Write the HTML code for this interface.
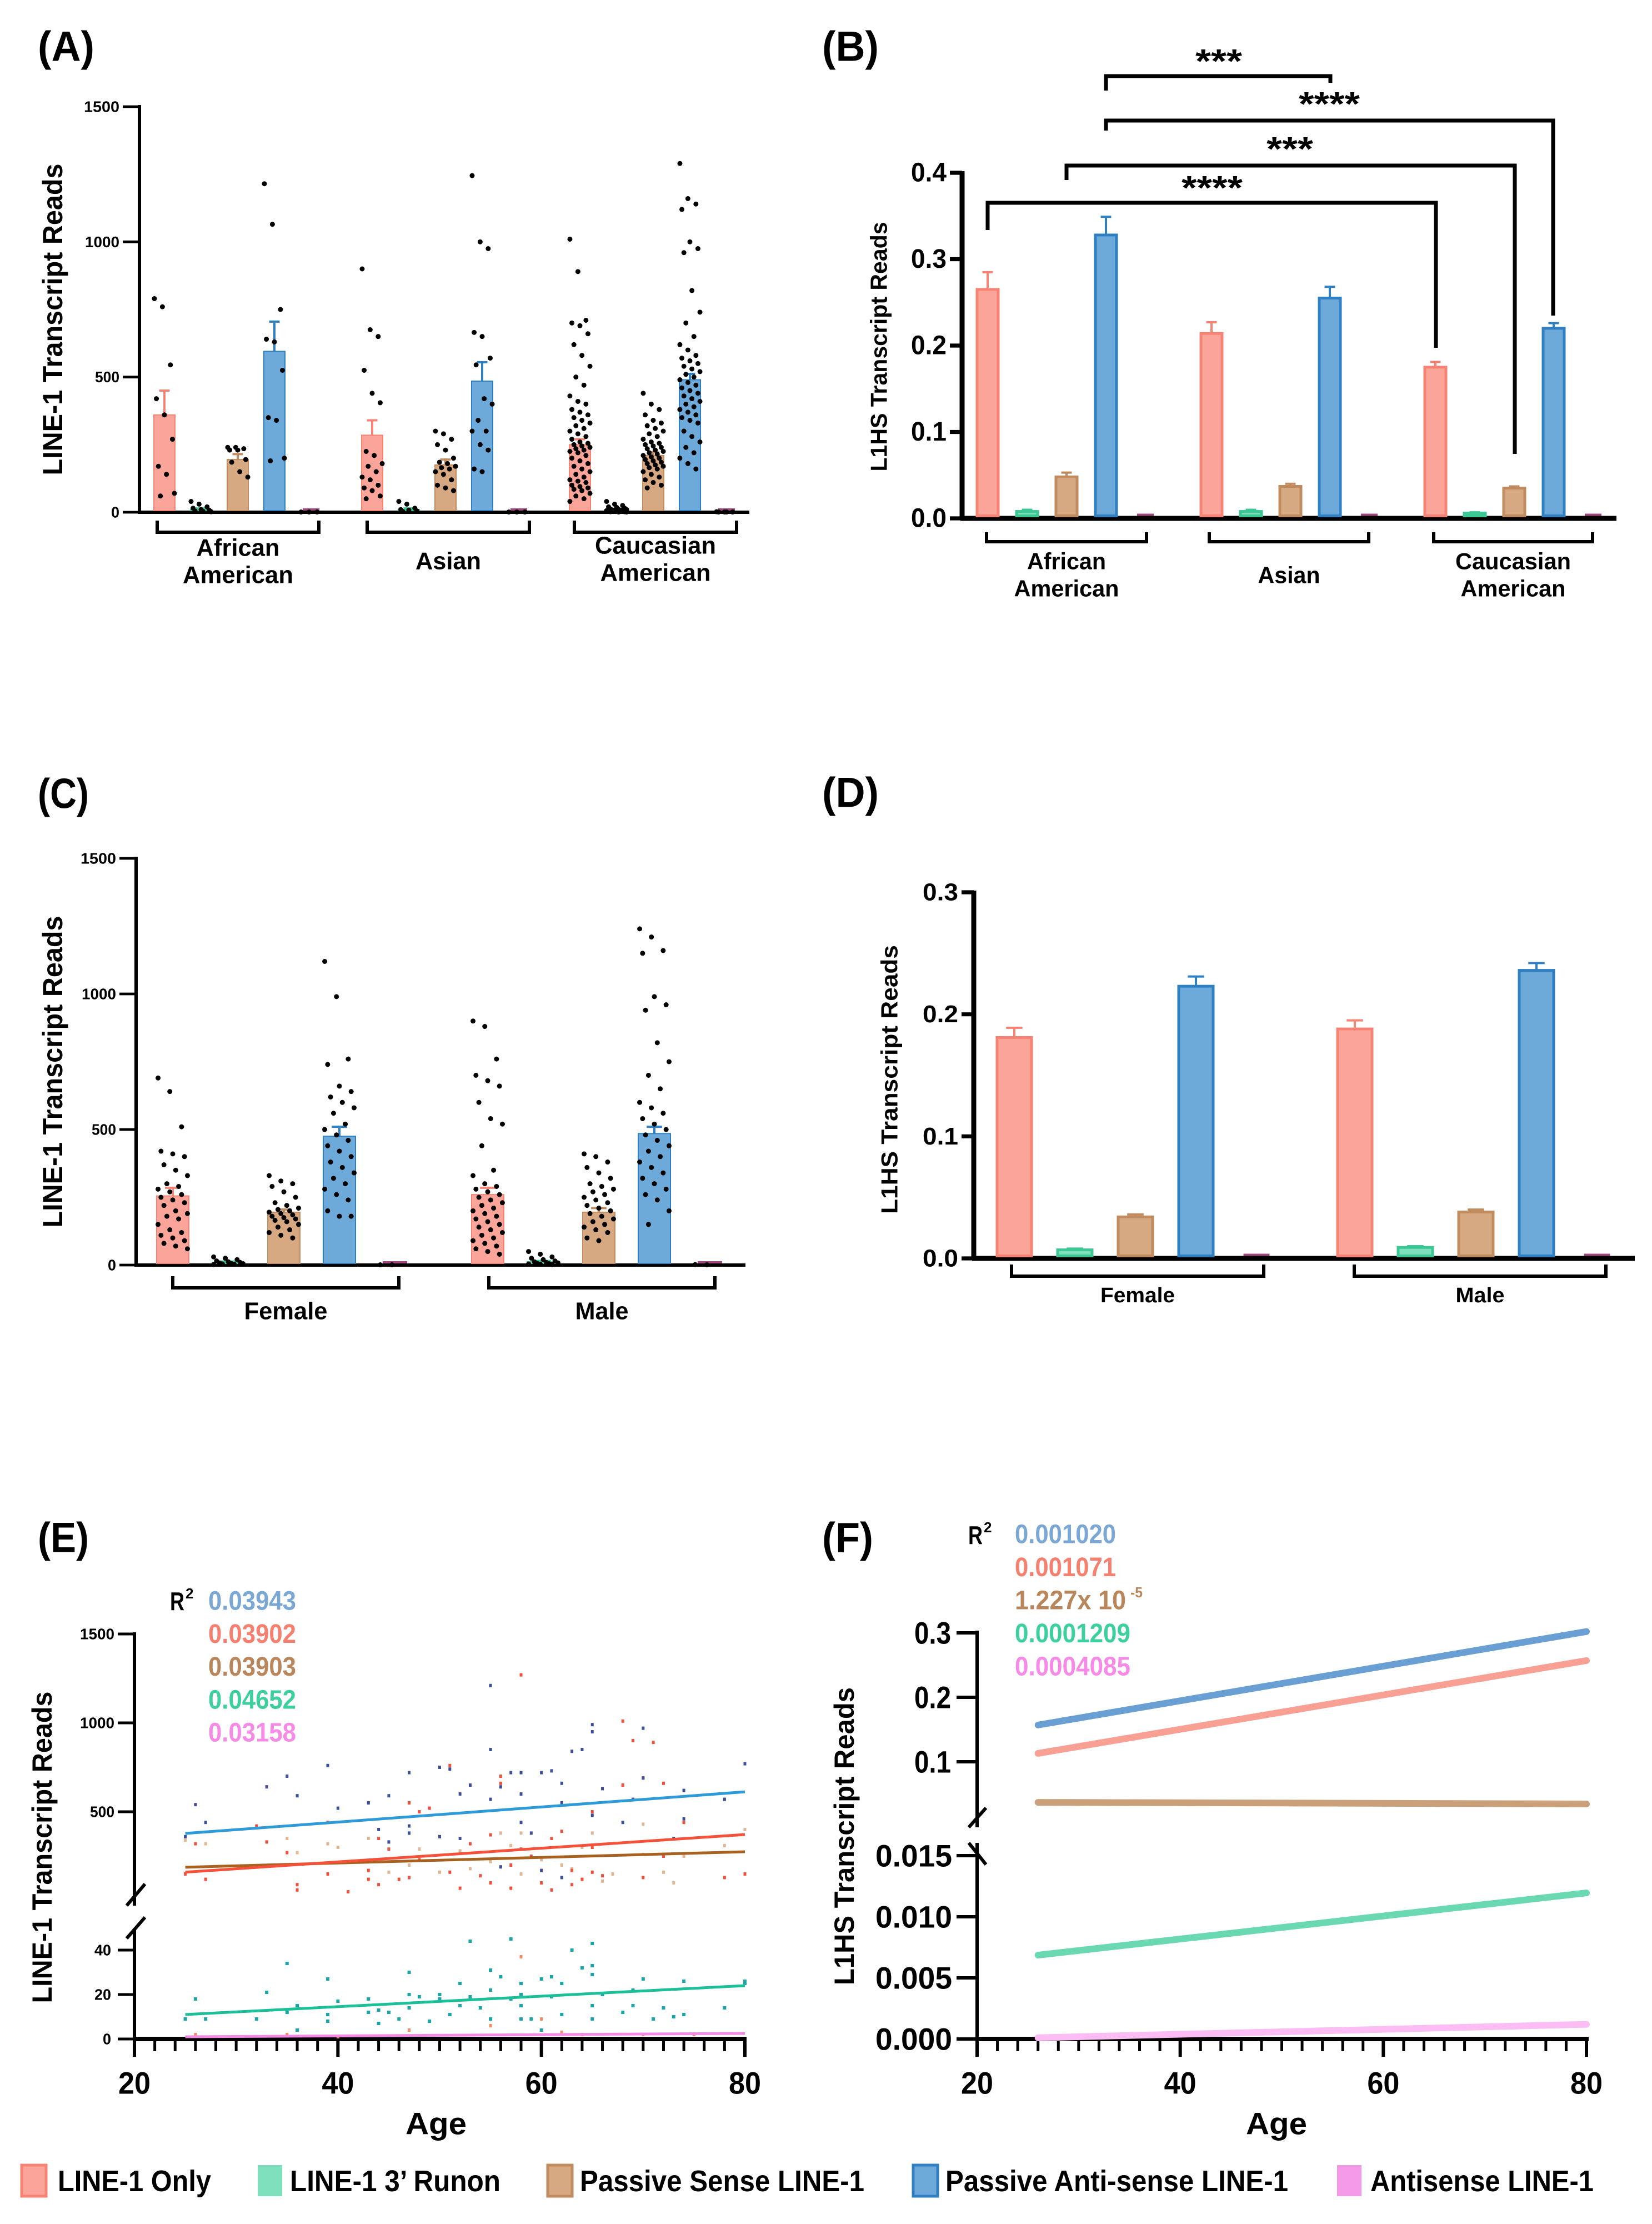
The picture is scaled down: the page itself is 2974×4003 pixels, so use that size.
<!DOCTYPE html>
<html><head><meta charset="utf-8"><style>
html,body{margin:0;padding:0;background:#fff;}
svg{display:block;font-family:"Liberation Sans",Arial,sans-serif;font-weight:bold;}
</style></head><body>
<svg id="fig" width="2974" height="4003" viewBox="0 0 2974 4003" xmlns="http://www.w3.org/2000/svg"></svg>
<script>
// ---------- DATA ----------
const seriesNames = ["LINE-1 Only","LINE-1 3\u2019 Runon","Passive Sense LINE-1","Passive Anti-sense LINE-1","Antisense LINE-1"];
const raceGroups = ["African American","Asian","Caucasian American"];
const sexGroups = ["Female","Male"];
// Panel A means / SEM tops (LINE-1 reads)
const aMeans = [[360,10,195,595,1],[285,10,175,485,1],[250,10,210,490,1]];
const aErr   = [[450,14,215,705,1],[340,14,195,555,1],[270,12,222,512,1]];
const aDots = [
 [[790,760,545,420,360,270,170,140,70,60],[40,30,20,15,10,8,5,3,2],[240,240,235,230,230,195,185,150,130],[1215,1065,750,640,630,525,350,340,200,190],[1,1,1]],
 [[900,675,650,525,440,405,225,210,180,170,150,130,120,100,90,80,60,50],[40,30,15,10,8,5,3],[300,290,270,250,230,200,185,180,170,165,160,150,140,120,100,90,80],[1245,1000,975,665,650,570,545,420,400,340,300,300,250,230,160,150],[1,1,1]],
 [[1010,890,710,700,690,660,620,580,540,500,470,430,410,400,380,370,360,350,340,330,320,310,300,290,280,270,260,255,250,245,240,235,230,225,220,210,200,190,180,170,160,150,140,130,120,115,110,100,95,90,85,80,70,60,50,40],[40,30,25,20,18,15,12,10,10,8,8,6,5,5,4,3,2,2,1,1],[440,400,380,360,340,330,320,310,300,290,280,270,260,255,250,245,240,235,230,225,220,215,210,205,200,195,190,185,180,175,170,165,160,150,140,130,120,110,100,90],[1290,1160,1140,1120,1000,975,960,820,740,700,650,620,600,580,570,560,550,540,530,520,510,500,490,480,470,460,450,440,430,420,410,400,390,380,370,360,350,340,330,300,280,260,240,220,200,180,160],[2,1,1,1,1]]
];
// Panel B (L1HS)
const bMeans = [[0.265,0.008,0.048,0.328,0.001],[0.214,0.008,0.037,0.255,0.001],[0.175,0.006,0.035,0.220,0.001]];
const bErr   = [[0.285,0.010,0.053,0.349,0.001],[0.227,0.010,0.040,0.268,0.001],[0.181,0.007,0.037,0.226,0.001]];
// Panel C
const cMeans = [[255,10,195,475,1],[260,12,195,485,1]];
const cErr   = [[285,13,205,510,1],[285,15,210,510,1]];
const cDots = [
 [[690,640,510,420,410,400,370,350,330,300,290,280,270,260,250,240,230,220,200,190,180,170,150,130,120,110,100,90,80,70,60],[30,25,20,15,12,10,8,6,5,4,3,2],[330,310,300,290,270,250,230,220,210,205,200,195,190,185,180,175,170,165,160,150,140,130,120,110,100],[1120,990,760,740,660,640,620,600,580,560,520,500,480,460,440,420,400,380,360,340,320,300,280,260,240,200,180,180],[1,1]],
 [[900,880,760,700,680,660,600,540,520,440,350,330,300,290,280,270,260,250,240,230,220,210,200,190,180,170,160,150,140,130,120,110,100,90,80,70,60,50,40],[50,40,30,25,20,15,12,10,8,6,5,4,3,2],[410,400,380,360,340,320,300,290,280,270,260,250,240,230,220,210,200,190,180,170,160,150,140,130,120,100,90],[1240,1210,1160,1150,990,960,940,820,750,700,650,600,580,560,540,520,500,480,460,440,420,400,380,360,340,320,300,280,260,240,200,150],[2,1]]
];
// Panel D
const dMeans = [[0.181,0.007,0.034,0.223,0.001],[0.188,0.009,0.038,0.236,0.001]];
const dErr   = [[0.189,0.008,0.036,0.231,0.001],[0.195,0.010,0.040,0.242,0.001]];
// Panel E regression (age endpoints + fitted values)
const eFitAges = [25,80];
const eFitBlue = [378,612];
const eFitRed = [160,372];
const eFitTan = [188,275];
const eFitGreen = [11,24];
const eFitPink = [1,2.5];
const eR2 = ["0.03943","0.03902","0.03903","0.04652","0.03158"];
const eBlueAge = [25,26,27,33,35,36,39,40,43,44,45,47,47,47,50,51,52,53,55,55,55,56,57,58,58,59,60,61,62,62,63,64,65,65,65,66,68,69,70,70,73,74,74,78,80,56,50,45,52,58,62,60];
const eBlueVal = [360,540,440,640,700,590,760,520,550,400,590,720,420,380,750,740,600,650,1210,850,570,640,720,720,600,380,720,730,660,550,840,850,990,950,480,630,440,570,970,690,350,620,460,570,770,190,360,330,350,440,130,170];
const eRedAge = [25,26,27,32,33,35,36,36,39,39,41,43,43,44,44,45,46,47,47,48,48,49,51,51,52,53,54,55,55,56,56,57,57,58,58,59,60,61,61,62,63,63,64,65,65,65,66,68,68,69,70,70,71,72,72,74,78,80];
const eRedVal = [150,320,120,420,330,270,90,60,440,150,50,170,120,350,90,290,120,550,130,500,230,520,760,160,70,320,140,370,100,700,660,200,70,1270,290,250,100,350,60,390,170,90,120,500,160,300,140,1010,650,900,690,130,890,250,660,440,130,150];
const eTanAge = [25,27,35,36,39,40,43,45,47,48,50,52,53,56,57,58,60,62,63,64,65,66,67,70,70,72,73,74,78,80,58,55];
const eTanVal = [340,320,350,270,320,300,350,160,200,290,160,280,180,380,310,150,230,200,180,300,380,110,150,430,260,160,100,250,310,400,380,220];
const eTealAge = [25,26,27,32,33,35,35,36,36,39,39,39,40,43,43,44,44,45,46,47,47,47,48,49,50,50,51,52,52,53,53,54,55,55,55,56,57,57,58,58,58,58,59,60,60,61,61,62,62,63,64,65,65,65,65,65,66,68,69,69,70,71,72,73,74,74,78,80,80];
const eTealVal = [9,18,9,9,21,34,12,15,4,27,11,8,17,18,12,13,7,12,9,30,20,14,19,8,20,18,11,25,15,44,19,14,31,22,9,28,45,18,25,20,15,9,9,27,4,28,19,25,11,40,32,43,33,29,15,9,20,12,22,15,27,9,14,10,26,11,14,26,25];
const eRedLowAge = [58,55,60,62,64,47,35,26,40,70,75];
const eRedLowVal = [37,6,9,3,2,4,2,2,1,2,2];
// Panel F regression lines
const fAges = [26,80];
const fBlue = [0.157,0.302];
const fRed = [0.113,0.257];
const fTan = [0.037,0.0345];
const fGreen = [0.00686,0.01195];
const fPink = [0.0001,0.0012];
const fR2 = ["0.001020","0.001071","1.227x 10","0.0001209","0.0004085"];

// ---------- HELPERS ----------
const NS = 'http://www.w3.org/2000/svg';
const svg = document.getElementById('fig');
const FILL = ['#fba59a','#7fe0be','#d6a983','#6eaad9','#f59ae8'];
const STROKE = ['#f78374','#3cc894','#c08b5e','#2f80c2','#a0487f'];
function mk(tag, attrs, name, parent){
  const el = document.createElementNS(NS, tag);
  for (const k in attrs) el.setAttribute(k, attrs[k]);
  
  
  (parent || svg).appendChild(el);
  return el;
}
function line(x1,y1,x2,y2,col,w,name,p){ return mk('line',{x1:x1,y1:y1,x2:x2,y2:y2,stroke:col,'stroke-width':w,'stroke-linecap':'butt'},name,p); }
function txt(x,y,s,size,anchor,fill,name,len,rot,p){
  const a = {x:x,y:y,'font-size':size,'text-anchor':anchor,'dominant-baseline':'central',fill:fill};
  if (len) { a.textLength = len; a.lengthAdjust = 'spacingAndGlyphs'; }
  if (rot) a.transform = 'rotate(' + rot + ' ' + x + ' ' + y + ')';
  const t = mk('text', a, name, p);
  t.textContent = s;
  return t;
}
function panelLabel(x,y,s,name){ txt(x,y,s,76,'start','#000',name,s==='(C)'||s==='(E)'||s==='(F)'?92:102); }

// ---------- BAR PANEL ----------
function barPanel(cfg){
  const g = mk('g',{},cfg.name);
  const ys = v => cfg.y0 - (v / cfg.vmax) * (cfg.y0 - cfg.yTop);
  // axes
  line(cfg.x0, cfg.yTop-3, cfg.x0, cfg.y0+3, '#000', cfg.aw, 'y-axis', g);
  line(cfg.x0-3, cfg.y0, cfg.xEnd, cfg.y0, '#000', cfg.aw, 'x-axis', g);
  cfg.ticks.forEach((t,i) => {
    const y = ys(t);
    line(cfg.x0 - cfg.tickLen, y, cfg.x0, y, '#000', cfg.aw*0.8, 'y-tick', g);
    txt(cfg.x0 - cfg.tickLen - 6, y, cfg.tickLabels[i], cfg.tickFont, 'end', '#000', 'y-tick-label', cfg.tickW[i], null, g);
  });
  // bars
  cfg.means.forEach((grp, gi) => {
    grp.forEach((v, si) => {
      const cx = cfg.start + gi*cfg.groupStep + si*cfg.step;
      const top = ys(v), bw = cfg.bw;
      const e = ys(cfg.err[gi][si]);
      if (si < 4) {
        line(cx, top, cx, e, STROKE[si], 4, 'error-bar', g);
        line(cx - bw*0.22, e, cx + bw*0.22, e, STROKE[si], 4, 'error-cap', g);
        mk('rect',{x:cx-bw/2+2.5,y:top,width:bw-5,height:Math.max(cfg.y0-top-cfg.aw/2,2),fill:FILL[si],stroke:STROKE[si],'stroke-width':cfg.bs},'bar-'+gi+'-'+si,g);
      } else {
        line(cx-bw*0.35, cfg.y0-cfg.aw/2-2, cx+bw*0.35, cfg.y0-cfg.aw/2-2, STROKE[4], 4, 'bar-antisense', g);
      }
      if (cfg.dots) {
        const d = cfg.dots[gi][si];
        d.forEach((val, k) => {
          const off = (((k*37) % 11) - 5) / 5 * bw * 0.42;
          mk('circle',{cx:cx+off, cy:ys(val), r:4.5, fill:'#000'},'data-point',g);
        });
      }
    });
  });
  // group brackets + labels
  cfg.brackets.forEach((b, i) => {
    const path = 'M'+b[0]+' '+cfg.bY1+' V'+cfg.bY2+' H'+b[1]+' V'+cfg.bY1;
    mk('path',{d:path,fill:'none',stroke:'#000','stroke-width':cfg.bsw},'group-bracket',g);
    cfg.groupLabels[i].forEach((ln, j) => {
      txt((b[0]+b[1])/2, ln[1], ln[0], cfg.glFont, 'middle', '#000', 'group-label', ln[2], null, g);
    });
  });
  txt(cfg.ytX, cfg.ytY, cfg.ytitle, cfg.ytFont, 'middle', '#000', 'y-axis-title', cfg.ytLen, -90, g);
  return {g: g, ys: ys};
}

panelLabel(68, 84, '(A)', 'panel-label-a');
barPanel({name:'panel-a', x0:251, y0:922, yTop:192, vmax:1500, xEnd:1349, aw:6, tickLen:30,
  ticks:[0,500,1000,1500], tickLabels:['0','500','1000','1500'], tickFont:28, tickW:[15,44,62,64],
  means:aMeans, err:aErr, dots:aDots, start:296, step:66, groupStep:374, bw:43, bs:2,
  brackets:[[283,574],[661,953],[1034,1326]], bY1:937, bY2:958, bsw:6, glFont:44,
  groupLabels:[[['African',986,150],['American',1035,199]],[['Asian',1010,118]],[['Caucasian',982,218],['American',1031,199]]],
  ytitle:'LINE-1 Transcript Reads', ytX:95, ytY:575, ytFont:50, ytLen:561});

panelLabel(1480, 84, '(B)', 'panel-label-b');
const B = barPanel({name:'panel-b', x0:1732, y0:933, yTop:311, vmax:0.4, xEnd:2910, aw:9, tickLen:22,
  ticks:[0,0.1,0.2,0.3,0.4], tickLabels:['0.0','0.1','0.2','0.3','0.4'], tickFont:48, tickW:[64,64,64,64,64],
  means:bMeans, err:bErr, dots:null, start:1778, step:71, groupStep:403, bw:43, bs:5,
  brackets:[[1776,2064],[2177,2464],[2581,2867]], bY1:958, bY2:975, bsw:6, glFont:42,
  groupLabels:[[['African',1010,142],['American',1059,189]],[['Asian',1035,112]],[['Caucasian',1010,208],['American',1059,189]]],
  ytitle:'L1HS Transcript Reads', ytX:1582, ytY:624, ytFont:42, ytLen:449});
// significance brackets (B)
const sigPairs = [[1991,2395,137,163,149,'***',2194,102,84],[1991,2796,217,235,568,'****',2393,179,110],[1920,2727,298,324,817,'***',2322,260,84],[1778,2585,365,414,626,'****',2182,330,110]];
sigPairs.forEach(s => {
  mk('path',{d:'M'+s[0]+' '+s[3]+' V'+s[2]+' H'+s[1]+' V'+s[4],fill:'none',stroke:'#000','stroke-width':7},'significance-bracket');
  txt(s[6], s[7]+8, s[5], 60, 'middle', '#000', 'significance-stars', s[8]);
});

panelLabel(68, 1429, '(C)', 'panel-label-c');
barPanel({name:'panel-c', x0:245, y0:2277, yTop:1545, vmax:1500, xEnd:1342, aw:6, tickLen:30,
  ticks:[0,500,1000,1500], tickLabels:['0','500','1000','1500'], tickFont:28, tickW:[15,44,62,64],
  means:cMeans, err:cErr, dots:cDots, start:311, step:100, groupStep:567, bw:63, bs:2,
  brackets:[[311,718],[880,1287]], bY1:2297, bY2:2318, bsw:6, glFont:44,
  groupLabels:[[['Female',2360,150]],[['Male',2360,96]]],
  ytitle:'LINE-1 Transcript Reads', ytX:95, ytY:1929, ytFont:50, ytLen:561});

panelLabel(1480, 1427, '(D)', 'panel-label-d');
barPanel({name:'panel-d', x0:1753, y0:2265, yTop:1606, vmax:0.3, xEnd:2943, aw:9, tickLen:22,
  ticks:[0,0.1,0.2,0.3], tickLabels:['0.0','0.1','0.2','0.3'], tickFont:44, tickW:[64,64,64,64],
  means:dMeans, err:dErr, dots:null, start:1826, step:109, groupStep:613, bw:67, bs:5,
  brackets:[[1821,2275],[2438,2891]], bY1:2276, bY2:2297, bsw:6, glFont:38,
  groupLabels:[[['Female',2332,134]],[['Male',2332,88]]],
  ytitle:'L1HS Transcript Reads', ytX:1601, ytY:1943, ytFont:42, ytLen:484});

// ---------- PANEL E ----------
panelLabel(68, 2768, '(E)', 'panel-label-e');
const eX = a => 242 + (a - 20) * (1099/60);
const eYU = v => 3421 - v * 0.32;
const eYL = v => 3670 - v * 4;
(function(){
  const g = mk('g',{},'panel-e');
  line(242, 2938, 242, 3430, '#000', 6, 'y-axis-upper', g);
  line(242, 3472, 242, 3673, '#000', 6, 'y-axis-lower', g);
  line(228, 3430, 261, 3391, '#000', 6, 'axis-break', g);
  line(228, 3489, 261, 3451, '#000', 6, 'axis-break', g);
  [500,1000,1500].forEach(v => { line(212, eYU(v), 242, eYU(v), '#000', 5, 'y-tick', g); txt(206, eYU(v), String(v), 28, 'end', '#000', 'y-tick-label', v===500?44:62, null, g); });
  [0,20,40].forEach(v => { line(212, eYL(v), 242, eYL(v), '#000', 5, 'y-tick', g); txt(200, eYL(v), String(v), 28, 'end', '#000', 'y-tick-label', v===0?15:30, null, g); });
  line(239, 3670, 1344, 3670, '#000', 8, 'x-axis', g);
  for (let a = 20; a <= 80; a += 2) { const maj = a % 20 === 0; line(eX(a), 3670, eX(a), maj ? 3702 : 3692, '#000', maj ? 6 : 5, 'x-tick', g); }
  [20,40,60,80].forEach(a => txt(eX(a), 3749, String(a), 56, 'middle', '#000', 'x-tick-label', 58, null, g));
  txt(785, 3822, 'Age', 56, 'middle', '#000', 'x-axis-title', 110, null, g);
  txt(76, 3325, 'LINE-1 Transcript Reads', 50, 'middle', '#000', 'y-axis-title', 561, -90, g);
  eTanAge.forEach((a,i) => mk('rect',{x:eX(a)-2.5,y:eYU(eTanVal[i])-3,width:5,height:6,fill:'#e0b896'},'tan-point',g));
  eRedAge.forEach((a,i) => mk('rect',{x:eX(a)-2.5,y:eYU(eRedVal[i])-3,width:5,height:6,fill:'#f0503e'},'red-point',g));
  eBlueAge.forEach((a,i) => mk('rect',{x:eX(a)-2.5,y:eYU(eBlueVal[i])-3,width:5,height:6,fill:'#3b4f9a'},'blue-point',g));
  eTealAge.forEach((a,i) => mk('rect',{x:eX(a)-3,y:eYL(eTealVal[i])-3,width:6,height:6,fill:'#1aa6a8'},'teal-point',g));
  eRedLowAge.forEach((a,i) => mk('rect',{x:eX(a)-2.5,y:eYL(eRedLowVal[i])-3,width:5,height:6,fill:'#f58a60'},'red-low-point',g));
  const fit = (vals, fn, col, name) => line(eX(eFitAges[0]), fn(vals[0]), eX(eFitAges[1]), fn(vals[1]), col, 5, name, g);
  fit(eFitBlue, eYU, '#2f9ad8', 'fit-line-blue');
  fit(eFitTan, eYU, '#a8611e', 'fit-line-tan');
  fit(eFitRed, eYU, '#f5503a', 'fit-line-red');
  fit(eFitGreen, eYL, '#1bbf98', 'fit-line-green');
  fit(eFitPink, eYL, '#f58ae6', 'fit-line-pink');
  txt(306, 2882, 'R', 46, 'start', '#000', 'r-squared-label', 26, null, g);
  txt(334, 2868, '2', 26, 'start', '#000', 'r-squared-exp', null, null, g);
  const ecol = ['#7ba7d4','#f5806f','#b8865a','#3dcf9e','#f68ae6'];
  eR2.forEach((s,i) => txt(375, 2882 + i*59.3, s, 48, 'start', ecol[i], 'r-squared-value', 158, null, g));
})();

// ---------- PANEL F ----------
panelLabel(1480, 2768, '(F)', 'panel-label-f');
const fX = a => 1759 + (a - 20) * (1097/60);
const fYU = v => 3287 - v * 1160;
const fYL = v => 3670 - v * 22000;
(function(){
  const g = mk('g',{},'panel-f');
  line(1759, 2935, 1759, 3289, '#000', 6, 'y-axis-upper', g);
  line(1759, 3317, 1759, 3673, '#000', 6, 'y-axis-lower', g);
  line(1744, 3289, 1775, 3254, '#000', 6, 'axis-break', g);
  line(1744, 3317, 1775, 3356, '#000', 6, 'axis-break', g);
  line(1733, 2939, 1759, 2939, '#000', 6, 'y-tick', g);
  [0.1,0.2,0.3].forEach(v => { line(1722, fYU(v), 1759, fYU(v), '#000', 6, 'y-tick', g); txt(1712, fYU(v), v.toFixed(1), 56, 'end', '#000', 'y-tick-label', 66, null, g); });
  [0,0.005,0.010,0.015].forEach(v => { line(1722, fYL(v), 1759, fYL(v), '#000', 6, 'y-tick', g); txt(1714, fYL(v), v.toFixed(3), 56, 'end', '#000', 'y-tick-label', 138, null, g); });
  line(1756, 3670, 2860, 3670, '#000', 8, 'x-axis', g);
  for (let a = 20; a <= 80; a += 2) { const maj = a % 20 === 0; line(fX(a), 3670, fX(a), maj ? 3702 : 3692, '#000', maj ? 6 : 5, 'x-tick', g); }
  [20,40,60,80].forEach(a => txt(fX(a), 3749, String(a), 56, 'middle', '#000', 'x-tick-label', 58, null, g));
  txt(2298, 3822, 'Age', 56, 'middle', '#000', 'x-axis-title', 110, null, g);
  txt(1520, 3305, 'L1HS Transcript Reads', 50, 'middle', '#000', 'y-axis-title', 536, -90, g);
  const fl = (vals, fn, col, name) => mk('line',{x1:fX(fAges[0]),y1:fn(vals[0]),x2:fX(fAges[1]),y2:fn(vals[1]),stroke:col,'stroke-width':12,'stroke-linecap':'round'},name,g);
  fl(fBlue, fYU, '#6a9fd4', 'fit-line-blue');
  fl(fRed, fYU, '#f9a095', 'fit-line-red');
  fl(fTan, fYU, '#c9a07a', 'fit-line-tan');
  fl(fGreen, fYL, '#6ad8b0', 'fit-line-green');
  fl(fPink, fYL, '#fbbdf3', 'fit-line-pink');
  txt(1743, 2763, 'R', 46, 'start', '#000', 'r-squared-label', 26, null, g);
  txt(1771, 2749, '2', 26, 'start', '#000', 'r-squared-exp', null, null, g);
  const fcol = ['#7ba7d4','#f5806f','#b8865a','#3dcf9e','#f68ae6'];
  const fw = [182,182,200,208,208];
  fR2.forEach((s,i) => txt(1827, 2762 + i*59.5, s, 48, 'start', fcol[i], 'r-squared-value', fw[i], null, g));
  txt(2035, 2866, '-5', 26, 'start', '#b8865a', 'r-squared-exp', 22, null, g);
})();

// ---------- LEGEND ----------
const legSw = [36,461,983,1641,2404];
const legTx = [[104,276],[522,379],[1044,512],[1702,617],[2467,402]];
(function(){
  const g = mk('g',{},'legend');
  seriesNames.forEach((n,i) => {
    mk('rect',{x:legSw[i]+3,y:3897,width:44,height:56,fill:FILL[i],stroke:i===1?FILL[1]:STROKE[i],'stroke-width':i===1||i===4?0:5},'legend-swatch',g);
    txt(legTx[i][0], 3926, n, 54, 'start', '#000', 'legend-entry', legTx[i][1], null, g);
  });
})();
</script>
</body></html>
